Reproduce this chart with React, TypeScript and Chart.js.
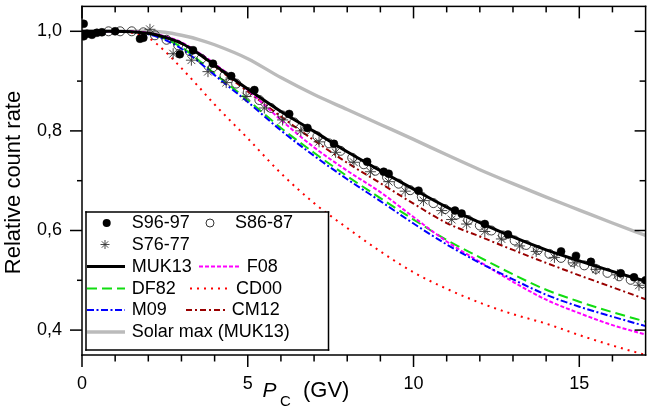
import React, { useEffect, useRef } from 'react';
import { Chart, registerables } from 'chart.js';

Chart.register(...registerables);

// ---------- data ----------
const curveGV = [0, 1, 1.5, 2, 2.5, 3, 3.5, 4, 5, 6, 7, 8, 9, 10, 11, 12, 13, 14, 15, 16, 17];
const muk13 = [1.0, 1.0, 0.999, 0.996, 0.988, 0.976, 0.956, 0.932, 0.884, 0.839, 0.799, 0.758, 0.72, 0.683, 0.647, 0.616, 0.587, 0.561, 0.539, 0.518, 0.498];
const f08 = [1.0, 1.0, 1.0, 0.997, 0.99, 0.978, 0.958, 0.935, 0.882, 0.822, 0.767, 0.72, 0.677, 0.627, 0.578, 0.537, 0.497, 0.461, 0.434, 0.41, 0.391];
const df82 = [1.0, 1.0, 0.999, 0.995, 0.985, 0.968, 0.943, 0.915, 0.862, 0.806, 0.756, 0.709, 0.665, 0.622, 0.581, 0.546, 0.512, 0.481, 0.457, 0.436, 0.417];
const cd00 = [1.0, 1.0, 0.997, 0.987, 0.96, 0.926, 0.89, 0.853, 0.785, 0.715, 0.655, 0.605, 0.558, 0.516, 0.483, 0.455, 0.432, 0.413, 0.39, 0.369, 0.35];
const m09 = [1.0, 1.0, 0.999, 0.994, 0.983, 0.965, 0.94, 0.912, 0.858, 0.801, 0.75, 0.703, 0.659, 0.614, 0.572, 0.535, 0.502, 0.471, 0.447, 0.427, 0.408];
const cm12 = [1.0, 1.0, 0.999, 0.996, 0.988, 0.975, 0.955, 0.93, 0.879, 0.829, 0.781, 0.736, 0.695, 0.654, 0.615, 0.588, 0.561, 0.535, 0.51, 0.486, 0.462];
const solarMax = [1.0, 1.0, 1.0, 1.0, 0.998, 0.992, 0.984, 0.973, 0.945, 0.907, 0.873, 0.843, 0.813, 0.783, 0.752, 0.722, 0.694, 0.667, 0.641, 0.615, 0.59];

const s9697GV = [0.05, 0.05, 0.15, 0.3, 0.45, 0.6, 1.0, 1.75, 1.85, 2.95, 3.35, 3.95, 4.5, 5.2, 6.25, 6.8, 7.6, 8.6, 9.1, 9.25, 10.15, 11.25, 11.45, 12.15, 12.85, 14.45, 14.9, 15.35, 16.25, 16.65, 17.0];
const s9697Rate = [1.015, 0.99, 0.995, 0.993, 0.997, 0.998, 1.0, 0.985, 0.987, 0.954, 0.962, 0.935, 0.91, 0.882, 0.834, 0.806, 0.774, 0.738, 0.718, 0.714, 0.68, 0.64, 0.634, 0.613, 0.592, 0.558, 0.549, 0.537, 0.514, 0.506, 0.5];

const s8687GV = [0.8, 1.15, 1.5, 1.85, 2.2, 2.55, 2.9, 3.25, 3.6, 3.95, 4.3, 4.65, 5.0, 5.35, 5.7, 6.05, 6.4, 6.75, 7.1, 7.45, 7.8, 8.15, 8.5, 8.85, 9.2, 9.55, 9.9, 10.25, 10.6, 10.95, 11.3, 11.65, 12.0, 12.35, 12.7, 13.05, 13.4, 13.75, 14.1, 14.45, 14.8, 15.15, 15.5, 15.85, 16.2, 16.55, 16.9];
const s8687Rate = [1.0, 1.0, 1.0, 0.998, 0.992, 0.983, 0.972, 0.96, 0.945, 0.928, 0.911, 0.895, 0.878, 0.862, 0.846, 0.831, 0.817, 0.802, 0.789, 0.775, 0.76, 0.746, 0.733, 0.72, 0.707, 0.694, 0.681, 0.668, 0.655, 0.643, 0.632, 0.621, 0.61, 0.6, 0.59, 0.58, 0.571, 0.561, 0.553, 0.545, 0.537, 0.53, 0.523, 0.515, 0.508, 0.501, 0.494];

const s7677GV = [2.05, 2.75, 3.3, 3.8, 4.35, 4.95, 5.5, 6.05, 6.6, 7.15, 7.65, 8.2, 8.7, 9.25, 9.75, 10.3, 10.85, 11.15, 11.6, 12.15, 12.65, 13.2, 13.7, 14.25, 14.85, 15.5, 16.15, 16.8];
const s7677Rate = [1.004, 0.955, 0.942, 0.919, 0.897, 0.869, 0.846, 0.822, 0.8, 0.778, 0.757, 0.737, 0.718, 0.698, 0.679, 0.66, 0.64, 0.622, 0.613, 0.598, 0.583, 0.569, 0.558, 0.546, 0.535, 0.522, 0.511, 0.49];

const xTickValues = [0, 5, 10, 15];
const xMinorValues = [1, 2, 3, 4, 6, 7, 8, 9, 11, 12, 13, 14, 16];
const yTickValues = [0.4, 0.6, 0.8, 1.0];
const yMinorValues = [0.5, 0.7, 0.9];

const FONT = '"Liberation Sans", Arial, Helvetica, sans-serif';

const pts = (xs: number[], ys: number[]) => xs.map((x, i) => ({ x, y: ys[i] }));

const lineDs = (label: string, ys: number[], color: string, width: number, dash: number[], order: number) => ({
  label,
  data: pts(curveGV, ys),
  showLine: true,
  borderColor: color,
  backgroundColor: color,
  borderWidth: width,
  borderDash: dash,
  pointRadius: 0,
  pointHoverRadius: 0,
  cubicInterpolationMode: 'monotone' as const,
  fill: false,
  order,
});

// legend layout (positions only)
const legendRows = [223, 244.5, 266.5, 288.5, 310, 332];
type LegendItem = { ds: number; row: number; kind: 'dot' | 'ring' | 'star' | 'line'; x0: number; x1: number; tx: number };
const legendLayout: LegendItem[] = [
  { ds: 0, row: 0, kind: 'dot', x0: 106.7, x1: 106.7, tx: 131.7 },
  { ds: 1, row: 0, kind: 'ring', x0: 210, x1: 210, tx: 235 },
  { ds: 2, row: 1, kind: 'star', x0: 105, x1: 105, tx: 131.7 },
  { ds: 3, row: 2, kind: 'line', x0: 87, x1: 125, tx: 131.7 },
  { ds: 4, row: 2, kind: 'line', x0: 199, x1: 240, tx: 246.7 },
  { ds: 5, row: 3, kind: 'line', x0: 87, x1: 125, tx: 131.7 },
  { ds: 6, row: 3, kind: 'line', x0: 190, x1: 227, tx: 236 },
  { ds: 7, row: 4, kind: 'line', x0: 87, x1: 125, tx: 131.7 },
  { ds: 8, row: 4, kind: 'line', x0: 186, x1: 225, tx: 231.7 },
  { ds: 9, row: 5, kind: 'line', x0: 87, x1: 125, tx: 131.7 },
];

const framePlugin = {
  id: 'frameTicks',
  afterDraw(chart: any) {
    const ctx: CanvasRenderingContext2D = chart.ctx;
    const a = chart.chartArea;
    const xs = chart.scales.x;
    const ys = chart.scales.y;
    ctx.save();
    ctx.setLineDash([]);
    ctx.globalAlpha = 1;
    ctx.globalCompositeOperation = 'source-over';
    ctx.fillStyle = '#000';
    const lw = 1.5;
    // frame as filled rectangles
    ctx.fillRect(a.left - lw / 2, a.top - lw / 2, a.right - a.left + lw, lw);
    ctx.fillRect(a.left - lw / 2, a.bottom - lw / 2, a.right - a.left + lw, lw);
    ctx.fillRect(a.left - lw / 2, a.top - lw / 2, lw, a.bottom - a.top + lw);
    ctx.fillRect(a.right - lw / 2, a.top - lw / 2, lw, a.bottom - a.top + lw);

    const vtick = (p: number, y0: number, y1: number) => ctx.fillRect(p - lw / 2, Math.min(y0, y1), lw, Math.abs(y1 - y0));
    const htick = (p: number, x0: number, x1: number) => ctx.fillRect(Math.min(x0, x1), p - lw / 2, Math.abs(x1 - x0), lw);
    xTickValues.forEach((v) => {
      const p = xs.getPixelForValue(v);
      vtick(p, a.bottom, a.bottom + 12);
      vtick(p, a.top, a.top + 12);
    });
    xMinorValues.forEach((v) => {
      const p = xs.getPixelForValue(v);
      vtick(p, a.bottom, a.bottom + 6.5);
      vtick(p, a.top, a.top + 6);
    });
    yTickValues.forEach((v) => {
      const p = ys.getPixelForValue(v);
      htick(p, a.left - 12, a.left);
      htick(p, a.right - 11, a.right);
    });
    yMinorValues.forEach((v) => {
      const p = ys.getPixelForValue(v);
      htick(p, a.left - 5, a.left);
      htick(p, a.right - 6, a.right);
    });

    // axis titles
    ctx.fillStyle = '#000';
    ctx.textBaseline = 'alphabetic';
    ctx.save();
    ctx.translate(19.5, 182.5);
    ctx.rotate(-Math.PI / 2);
    ctx.textAlign = 'center';
    ctx.font = `22px ${FONT}`;
    ctx.fillText('Relative count rate', 0, 0);
    ctx.restore();

    ctx.textAlign = 'left';
    ctx.font = `italic 21px ${FONT}`;
    ctx.fillText('P', 262.5, 396.5);
    ctx.font = `15px ${FONT}`;
    ctx.fillText('C', 280, 405.5);
    ctx.font = `22px ${FONT}`;
    ctx.fillText('(GV)', 303, 396.5);

    // legend
    const bl = 86, bt = 212, br = 328.5, bb = 350;
    ctx.fillStyle = '#fff';
    ctx.fillRect(bl, bt, br - bl, bb - bt);
    ctx.fillStyle = '#000';
    ctx.fillRect(bl - 0.75, bt - 0.75, br - bl + 1.5, 1.5);
    ctx.fillRect(bl - 0.75, bb - 0.75, br - bl + 1.5, 1.5);
    ctx.fillRect(bl - 0.75, bt - 0.75, 1.5, bb - bt + 1.5);
    ctx.fillRect(br - 0.75, bt - 0.75, 1.5, bb - bt + 1.5);
    ctx.font = `18px ${FONT}`;
    ctx.textBaseline = 'middle';
    const seg = (x1: number, y1: number, x2: number, y2: number) => {
      ctx.beginPath();
      ctx.moveTo(x1, y1);
      ctx.lineTo(x2, y2);
      ctx.stroke();
    };
    legendLayout.forEach((it) => {
      const ds = chart.data.datasets[it.ds];
      const y = legendRows[it.row];
      ctx.save();
      if (it.kind === 'line') {
        ctx.strokeStyle = ds.borderColor;
        ctx.lineWidth = ds.borderWidth;
        ctx.setLineDash(ds.borderDash || []);
        seg(it.x0, y, it.x1, y);
      } else if (it.kind === 'dot') {
        ctx.fillStyle = '#000';
        ctx.beginPath();
        ctx.arc(it.x0, y, 4, 0, Math.PI * 2);
        ctx.fill();
      } else if (it.kind === 'ring') {
        ctx.strokeStyle = '#000';
        ctx.lineWidth = 0.8;
        ctx.beginPath();
        ctx.arc(it.x0, y, 4, 0, Math.PI * 2);
        ctx.stroke();
      } else {
        ctx.strokeStyle = '#333';
        ctx.lineWidth = 0.9;
        const r = 4.5;
        for (let k = 0; k < 4; k++) {
          const ang = (k * Math.PI) / 4;
          seg(it.x0 - r * Math.cos(ang), y - r * Math.sin(ang), it.x0 + r * Math.cos(ang), y + r * Math.sin(ang));
        }
      }
      ctx.restore();
      ctx.fillStyle = '#000';
      ctx.textAlign = 'left';
      ctx.fillText(ds.label, it.tx, y + 0.5);
    });
    ctx.restore();
  },
};

export default function App() {
  const ref = useRef<HTMLCanvasElement | null>(null);

  useEffect(() => {
    document.body.style.margin = '0';
    if (!ref.current) return;
    Chart.defaults.color = '#000';
    Chart.defaults.font.family = FONT;

    const datasets: any[] = [
      {
        label: 'S96-97',
        data: pts(s9697GV, s9697Rate),
        pointStyle: 'circle',
        pointRadius: 4,
        backgroundColor: '#000',
        borderColor: '#000',
        borderWidth: 0.5,
        showLine: false,
        order: 0,
      },
      {
        label: 'S86-87',
        data: pts(s8687GV, s8687Rate),
        pointStyle: 'circle',
        pointRadius: 4.5,
        backgroundColor: 'rgba(0,0,0,0)',
        borderColor: '#111',
        borderWidth: 0.8,
        showLine: false,
        order: 3,
      },
      {
        label: 'S76-77',
        data: pts(s7677GV, s7677Rate),
        pointStyle: 'star',
        pointRadius: 5.5,
        backgroundColor: '#333',
        borderColor: '#333',
        borderWidth: 0.9,
        showLine: false,
        order: 2,
      },
      lineDs('MUK13', muk13, '#000000', 3, [], 1),
      lineDs('F08', f08, '#ff00ff', 2, [4, 2], 5),
      lineDs('DF82', df82, '#11dd11', 2, [10, 5], 6),
      lineDs('CD00', cd00, '#ff0000', 2, [2, 5], 7),
      lineDs('M09', m09, '#0000ff', 2, [7, 2.5, 2, 2.5], 4),
      lineDs('CM12', cm12, '#990000', 2, [6, 3, 2, 3], 5),
      lineDs('Solar max (MUK13)', solarMax, '#bbbbbb', 3.4, [], 10),
    ];

    const chart = new Chart(ref.current, {
      type: 'scatter',
      data: { datasets },
      options: {
        animation: false,
        responsive: true,
        maintainAspectRatio: false,
        events: [],
        layout: { padding: { left: 0, right: 4, top: 1.5, bottom: 0 } },
        plugins: { legend: { display: false }, tooltip: { enabled: false } },
        scales: {
          x: {
            type: 'linear',
            min: 0,
            max: 17,
            grid: { display: false, drawTicks: false },
            border: { display: false },
            afterBuildTicks: (scale: any) => {
              scale.ticks = xTickValues.map((v) => ({ value: v }));
            },
            afterFit: (scale: any) => {
              scale.height = 55;
              scale.paddingLeft = 0;
              scale.paddingRight = 0;
              scale.paddingTop = 0;
              scale.paddingBottom = 0;
            },
            ticks: {
              padding: 18,
              font: { size: 18, family: FONT },
              color: '#000',
              maxRotation: 0,
              autoSkip: false,
              callback: (v: any) => String(v),
            },
          },
          y: {
            type: 'linear',
            min: 0.35,
            max: 1.05,
            grid: { display: false, drawTicks: false },
            border: { display: false },
            afterBuildTicks: (scale: any) => {
              scale.ticks = yTickValues.map((v) => ({ value: v }));
            },
            afterFit: (scale: any) => {
              scale.width = 82;
              scale.paddingTop = 0;
              scale.paddingBottom = 0;
              scale.paddingLeft = 0;
              scale.paddingRight = 0;
            },
            ticks: {
              padding: 20,
              font: { size: 18, family: FONT },
              color: '#000',
              autoSkip: false,
              callback: (v: any) => Number(v).toFixed(1).replace('.', ','),
            },
          },
        },
      },
      plugins: [framePlugin],
    });

    return () => chart.destroy();
  }, []);

  return (
    <div style={{ position: 'relative', width: 652, height: 410 }}>
      <canvas ref={ref} />
    </div>
  );
}
